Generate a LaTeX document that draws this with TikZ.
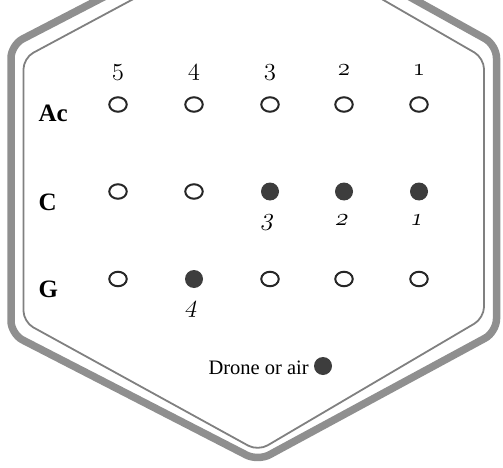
\documentclass[tikz,border=0pt]{standalone}
\usepackage{fontspec}
\setmainfont{Liberation Serif}
\usepackage{tikz}
\usetikzlibrary{shapes.geometric}
\providecommand\legacyoldstylenums{\oldstylenums}

\definecolor{bandgray}{gray}{0.56}
\definecolor{linegray}{gray}{0.5}
\definecolor{dotgray}{gray}{0.24}

\tikzset{
  hole/.style={ellipse, draw=black!85, line width=2pt, minimum width=17.5pt, minimum height=14.5pt, inner sep=0pt},
  shut/.style={circle, fill=dotgray, minimum size=18pt, inner sep=0pt},
  rowname/.style={anchor=base west, font=\fontsize{25}{25}\selectfont\bfseries},
  holenum/.style={anchor=base, font=\fontsize{24}{24}\selectfont},
  fingnum/.style={anchor=base, xslant=0.22, transform shape, font=\fontsize{27}{27}\selectfont}
}

\begin{document}
\begin{tikzpicture}[x=1pt, y=-1pt]
  \useasboundingbox (0,0) rectangle (503,468);
  \clip (0,0) rectangle (503,468);

  \draw[bandgray, line width=7.5pt, rounded corners=13pt]
    (262,-85) -- (496.5,45) -- (496.5,332) -- (258,461) -- (11,334) -- (11,45) -- cycle;
  \draw[linegray, line width=1.8pt, rounded corners=11pt]
    (262,-70) -- (484,58) -- (484,318) -- (258,451) -- (23.5,322) -- (23.5,58) -- cycle;

  \node[holenum] (h5) at (118,76) {\legacyoldstylenums{5}};
  \node[holenum] (h4) at (194,76) {\legacyoldstylenums{4}};
  \node[holenum] (h3) at (270,76) {\legacyoldstylenums{3}};
  \node[holenum] (h2) at (344,76) {\legacyoldstylenums{2}};
  \node[holenum] (h1) at (419,76) {\legacyoldstylenums{1}};

  \node[rowname] (ac) at (35,122) {Ac};
  \node[rowname] (cc) at (35,210) {C};
  \node[rowname] (gg) at (35,297) {G};

  \node[hole] (ac5) at (118,104.5) {};
  \node[hole] (ac4) at (194,104.5) {};
  \node[hole] (ac3) at (270,104.5) {};
  \node[hole] (ac2) at (344,104.5) {};
  \node[hole] (ac1) at (419,104.5) {};

  \node[hole] (c5) at (118,191.5) {};
  \node[hole] (c4) at (194,191.5) {};
  \node[shut] (c3) at (270,191.5) {};
  \node[shut] (c2) at (344,191.5) {};
  \node[shut] (c1) at (419,191.5) {};

  \node[hole] (g5) at (118,279) {};
  \node[shut] (g4) at (194,279) {};
  \node[hole] (g3) at (270,279) {};
  \node[hole] (g2) at (344,279) {};
  \node[hole] (g1) at (419,279) {};

  \node[fingnum] (f3) at (267,225) {\legacyoldstylenums{3}};
  \node[fingnum] (f2) at (341,225) {\legacyoldstylenums{2}};
  \node[fingnum] (f1) at (416,225) {\legacyoldstylenums{1}};
  \node[fingnum] (f4) at (191,312.5) {\legacyoldstylenums{4}};

  \node[anchor=base west, font=\fontsize{20.5}{20.5}\selectfont] (drone) at (205,374) {Drone or air};
  \node[shut] (air) at (323,366) {};
\end{tikzpicture}
\end{document}
